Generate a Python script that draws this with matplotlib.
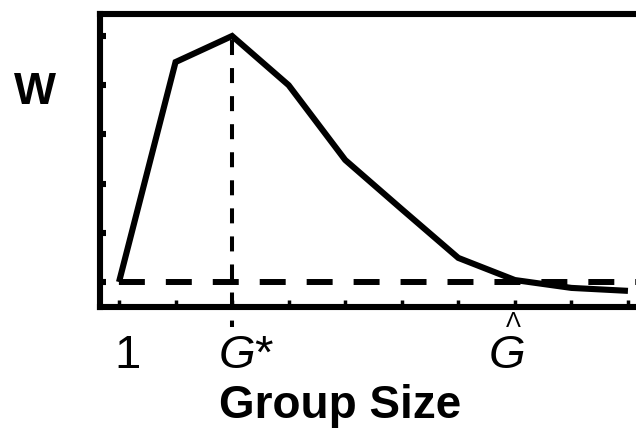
import matplotlib
matplotlib.use("Agg")
import matplotlib.pyplot as plt

plt.rcParams["font.family"] = ["Liberation Sans", "DejaVu Sans"]
plt.rcParams["mathtext.fontset"] = "custom"
plt.rcParams["mathtext.it"] = "Liberation Sans:italic"
plt.rcParams["mathtext.rm"] = "Liberation Sans"

# Fitness W as a function of group size
group_size = [1, 2, 3, 4, 5, 6, 7, 8, 9, 10]
fitness = [0.0, 4.47, 5.0, 4.0, 2.48, 1.48, 0.49, 0.04, -0.12, -0.18]

solitary_w = 0.0          # fitness of a lone individual
optimal_size = 3          # G*
equilibrium_size = 8      # G-hat
y_ticks = [0, 1, 2, 3, 4, 5]

fig = plt.figure(figsize=(6.36, 4.42), dpi=100)
ax = fig.add_axes([100 / 636, 135 / 442, 1.05, 293 / 442])
ax.set_xlim(0.664, 0.664 + 1.05 * 636 / 56.55)
ax.set_ylim(-0.508, 5.447)

ax.plot(group_size, fitness, color="black", lw=4.4,
        solid_joinstyle="miter", solid_capstyle="butt", zorder=3)

# horizontal reference: fitness of a solitary individual
lw_h = 4.3
ax.axhline(solitary_w, color="black", lw=lw_h,
           linestyle=(20.2 / lw_h, (18.7 / lw_h, 15.1 / lw_h)), zorder=2)

# vertical marker at the optimal group size, running below the axis
lw_v = 2.9
ax.plot([optimal_size, optimal_size], [max(fitness), -0.92], color="black",
        lw=lw_v, linestyle=(17.3 / lw_v, (10.8 / lw_v, 9.4 / lw_v)),
        clip_on=False, zorder=2)

for side in ("left", "top", "bottom"):
    ax.spines[side].set_linewidth(4.4)
ax.spines["right"].set_visible(False)

ax.set_xticks(group_size)
ax.set_yticks(y_ticks)
ax.tick_params(axis="y", direction="in", length=4.2, width=4.4, labelleft=False)
ax.tick_params(axis="x", direction="in", length=5, width=2.5, labelbottom=False)

# axis value labels
px = 1 / 56.55
lbl = dict(fontsize=34, va="baseline", clip_on=False)
ax.text(1 + 8 * px, -1.75, "1", ha="center", **lbl)
ax.text(optimal_size - 14 * px, -1.75, "$G$*", ha="left", **lbl)
ax.text(equilibrium_size - 8 * px, -1.75, "$G$", ha="center", **lbl)
# the hat over G
ax.text(equilibrium_size - 2.0 * px, -0.915, "Λ", ha="center", va="baseline",
        fontsize=16, clip_on=False)

fig.text(340 / 636, 1 - 418 / 442, "Group Size", ha="center", va="baseline",
         fontsize=33, fontweight="bold")
fig.text(35 / 636, 1 - 93 / 442, "W", ha="center", va="center",
         fontsize=32, fontweight="bold")

fig.savefig("out.png", dpi=100)
